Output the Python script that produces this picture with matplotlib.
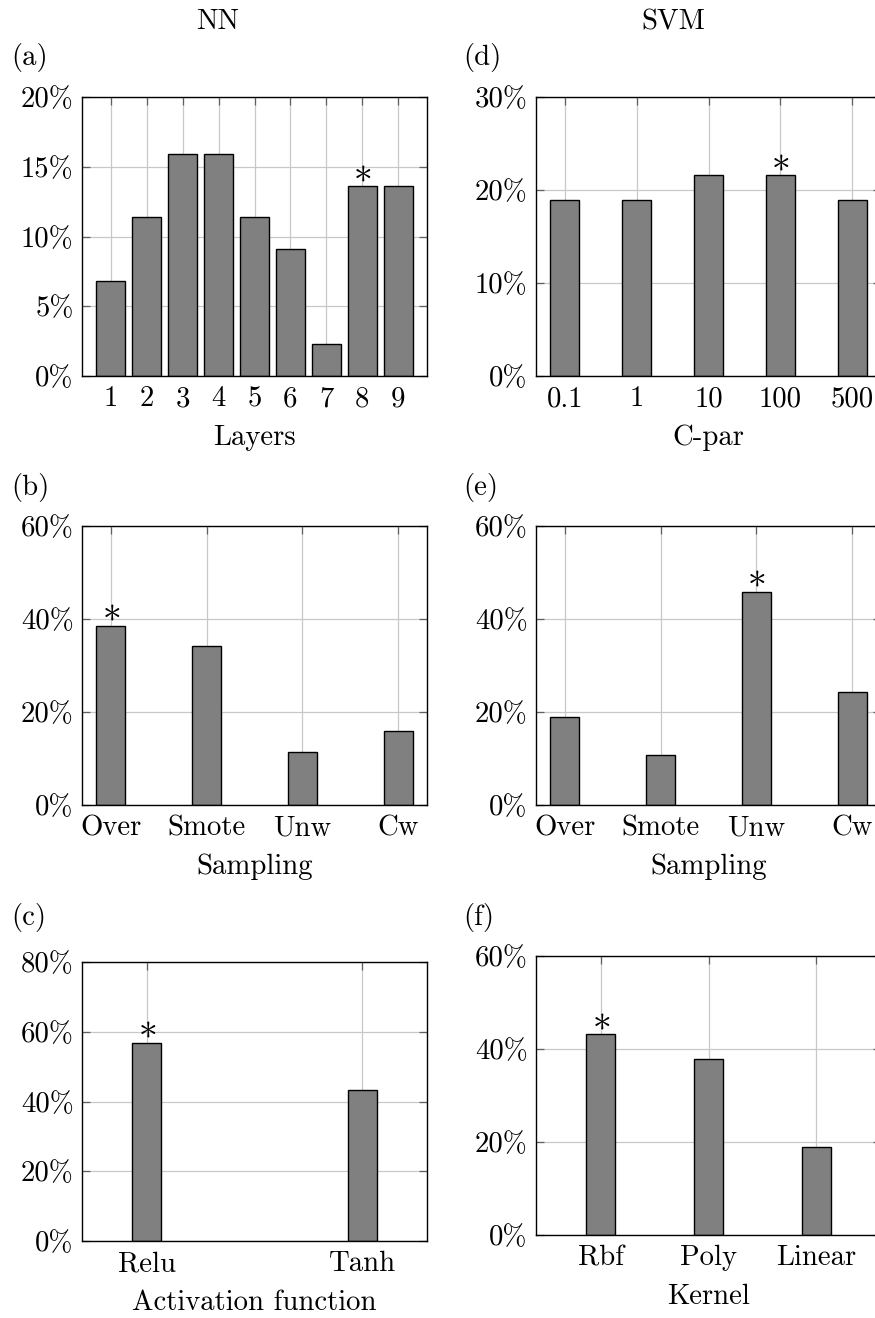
import matplotlib
matplotlib.use("Agg")
import matplotlib.pyplot as plt
from matplotlib.ticker import FuncFormatter

plt.rcParams['font.family'] = ['cmr10', 'DejaVu Serif']
plt.rcParams['mathtext.fontset'] = 'cm'
plt.rcParams['axes.formatter.use_mathtext'] = True
plt.rcParams['font.size'] = 20.7

# data (percent of runs)
layers = ['1', '2', '3', '4', '5', '6', '7', '8', '9']
nn_layers = [6.8, 11.4, 15.9, 15.9, 11.4, 9.1, 2.3, 13.6, 13.6]

cpar = ['0.1', '1', '10', '100', '500']
svm_cpar = [18.9, 18.9, 21.6, 21.6, 18.9]

sampling = ['Over', 'Smote', 'Unw', 'Cw']
nn_sampling = [38.6, 34.1, 11.4, 15.9]
svm_sampling = [18.9, 10.8, 45.9, 24.3]

activation = ['Relu', 'Tanh']
nn_activation = [56.8, 43.2]

kernel = ['Rbf', 'Poly', 'Linear']
svm_kernel = [43.2, 37.8, 18.9]

W, H = 875, 1318
fig = plt.figure(figsize=(W / 100, H / 100), dpi=100)

AX_W, AX_H = 345, 279
BAR_PX = 28.7


def panel(left, top, cats, vals, best, ymax, ystep, xlabel, xpad, xoff=0):
   ax = fig.add_axes([left / W, 1 - (top + AX_H) / H, AX_W / W, AX_H / H])
   x = [i + xoff for i in range(len(cats))]
   lo, hi = x[0] - xpad, x[-1] + xpad
   width = BAR_PX / AX_W * (hi - lo)
   ax.bar(x, vals, width=width, color='#808080', edgecolor='black', linewidth=1.0, zorder=3)
   # star above the best setting
   ax.annotate(r'$\ast$', xy=(x[best], vals[best]), xytext=(0, 10.5), textcoords='offset points',
               ha='center', va='center', fontsize=27, zorder=4)
   ax.set_xlim(lo, hi)
   ax.set_ylim(0, ymax)
   ax.set_xticks(x)
   ax.set_xticklabels(cats)
   ax.set_yticks([ystep * k for k in range(int(round(ymax / ystep)) + 1)])
   ax.yaxis.set_major_formatter(FuncFormatter(lambda v, p: f'{v:.0f}%'))
   ax.grid(True, color='#c8c8c8', linewidth=0.9, zorder=0)
   ax.tick_params(direction='in', length=6, width=0.9, color='#606060', top=True, right=True, pad=6)
   ax.tick_params(axis='x', pad=7)
   for s in ax.spines.values():
      s.set_linewidth(1.0)
      s.set_zorder(5)
   ax.set_xlabel(xlabel)
   ax.xaxis.set_label_coords(0.5, -62 / AX_H)
   ax.xaxis.label.set_va('center')
   return ax


panel(82, 97, layers, nn_layers, 7, 20, 5, 'Layers', 0.8, xoff=1)
panel(536, 97, cpar, svm_cpar, 3, 30, 10, 'C-par', 0.4)
panel(82, 526, sampling, nn_sampling, 0, 60, 20, 'Sampling', 0.3)
panel(536, 526, sampling, svm_sampling, 2, 60, 20, 'Sampling', 0.3)
panel(82, 962, activation, nn_activation, 0, 80, 20, 'Activation function', 0.3)
panel(536, 956, kernel, svm_kernel, 0, 60, 20, 'Kernel', 0.6)

fig.text(218 / W, 1 - 22 / H, 'NN', ha='center', va='center')
fig.text(673 / W, 1 - 22 / H, 'SVM', ha='center', va='center')
for lab, px, py in [('(a)', 11, 57), ('(d)', 463, 57), ('(b)', 11, 487),
                    ('(e)', 463, 487), ('(c)', 11, 917), ('(f)', 463, 917)]:
   fig.text(px / W, 1 - py / H, lab, ha='left', va='center')

fig.savefig('out.png', dpi=100)
